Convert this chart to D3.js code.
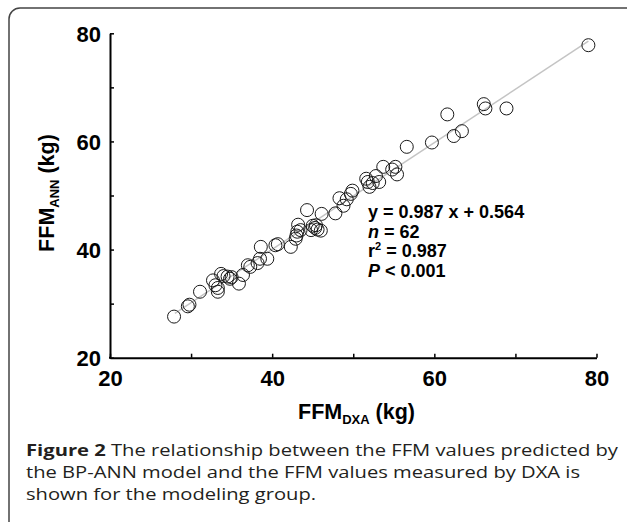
<!DOCTYPE html>
<html>
<head>
<meta charset="utf-8">
<script src="https://cdn.jsdelivr.net/npm/d3@7"></script>
<style>
  html, body { margin: 0; padding: 0; background: #fff; }
  svg { display: block; }
  .narrow { font-family: 'Liberation Sans Narrow', 'Arial Narrow', 'Liberation Sans', sans-serif; font-weight: bold; }
  .caption { font-family: 'Open Sans', 'Noto Sans', sans-serif; fill: #231f20; }
</style>
</head>
<body>
<svg id="chart" width="627" height="522"></svg>
<script>
const ffmDxa = [27.9, 29.6, 29.8, 31.1, 32.7, 33.0, 33.3, 33.3, 33.7, 34.0,
  34.5, 34.8, 35.9, 36.4, 37.0, 37.3, 38.2, 38.5, 38.6, 39.4,
  40.4, 40.7, 42.3, 42.9, 43.0, 43.1, 43.2, 43.5, 44.3, 44.8,
  45.0, 45.3, 45.6, 46.0, 46.1, 47.8, 48.3, 48.8, 49.2, 49.7,
  49.9, 51.6, 51.8, 52.0, 52.4, 52.8, 53.2, 53.7, 54.8, 55.2,
  55.4, 56.6, 59.7, 61.6, 62.4, 63.4, 66.1, 66.3, 68.9, 79.0,
  35.0, 45.4];
const ffmAnn = [27.6, 29.5, 29.8, 32.2, 34.3, 33.4, 32.2, 32.9, 35.5, 35.1,
  35.0, 34.6, 33.7, 35.3, 37.1, 36.8, 37.5, 38.3, 40.5, 38.3,
  40.8, 41.0, 40.5, 42.0, 42.6, 43.3, 44.6, 43.6, 47.3, 43.6,
  44.4, 44.0, 43.7, 43.5, 46.6, 46.7, 49.5, 48.1, 49.3, 50.3,
  50.9, 53.1, 52.5, 51.6, 52.3, 53.6, 52.5, 55.3, 54.8, 55.3,
  53.9, 59.0, 59.8, 65.0, 61.0, 61.9, 66.9, 66.1, 66.1, 77.8,
  34.9, 44.5];
const axisTicks = [20, 30, 40, 50, 60, 70, 80];
const tickLabels = [20, 40, 60, 80];
const fitSlope = 0.987, fitIntercept = 0.564;
const fitRange = [28, 79];
const statLines = [
  [{ t: 'y = 0.987 x + 0.564' }],
  [{ t: 'n', i: true }, { t: ' = 62' }],
  [{ t: 'r' }, { t: '2', sup: true }, { t: ' = 0.987' }],
  [{ t: 'P', i: true }, { t: ' < 0.001' }]
];
const captionLines = [
  [{ t: 'Figure 2', b: true }, { t: ' The relationship between the FFM values predicted by' }],
  [{ t: 'the BP-ANN model and the FFM values measured by DXA is' }],
  [{ t: 'shown for the modeling group.' }]
];

const svg = d3.select('#chart');
const plot = { left: 110, right: 596.5, top: 33.3, bottom: 357.7 };

// outer frame
svg.append('rect')
  .attr('x', 9).attr('y', 8).attr('width', 660).attr('height', 560)
  .attr('rx', 11).attr('ry', 11)
  .attr('fill', 'none').attr('stroke', '#444').attr('stroke-width', 1.5);

const x = d3.scaleLinear().domain([20, 80]).range([plot.left, plot.right]);
const y = d3.scaleLinear().domain([20, 80]).range([plot.bottom, plot.top]);

const fmt = d => tickLabels.includes(d) ? d : '';

const gx = svg.append('g')
  .attr('transform', `translate(0,${plot.bottom})`)
  .call(d3.axisBottom(x).tickValues(axisTicks).tickSizeInner(-4).tickSizeOuter(0).tickFormat(fmt));
const gy = svg.append('g')
  .attr('transform', `translate(${plot.left},0)`)
  .call(d3.axisLeft(y).tickValues(axisTicks).tickSizeInner(-4).tickSizeOuter(0).tickFormat(fmt));

[gx, gy].forEach(g => {
  g.select('.domain').attr('stroke', '#000').attr('stroke-width', 2);
  g.selectAll('.tick line').attr('stroke', '#000').attr('stroke-width', 1.5);
  g.selectAll('.tick text').attr('class', 'narrow').attr('font-size', 22).attr('fill', '#000');
});
gx.selectAll('.tick text').attr('y', 28).attr('dy', 0);
gy.selectAll('.tick text').attr('x', -9).attr('dy', 8);
// close corner where the two axis lines meet
svg.append('line')
  .attr('x1', plot.left - 1).attr('x2', plot.left + 1)
  .attr('y1', plot.bottom).attr('y2', plot.bottom)
  .attr('stroke', '#000').attr('stroke-width', 2);

// regression line
svg.append('line')
  .attr('x1', x(fitRange[0])).attr('y1', y(fitSlope * fitRange[0] + fitIntercept))
  .attr('x2', x(fitRange[1])).attr('y2', y(fitSlope * fitRange[1] + fitIntercept))
  .attr('stroke', '#c4c4c4').attr('stroke-width', 1.5);

// points
svg.append('g').selectAll('circle')
  .data(ffmDxa.map((d, i) => [d, ffmAnn[i]]))
  .join('circle')
  .attr('cx', d => x(d[0])).attr('cy', d => y(d[1])).attr('r', 6.5)
  .attr('fill', 'none').attr('stroke', '#1a1a1a').attr('stroke-width', 1);

// statistics block
const stats = svg.append('text').attr('class', 'narrow').attr('font-size', 18).attr('fill', '#000');
statLines.forEach((line, li) => {
  line.forEach((seg, si) => {
    const ts = stats.append('tspan').text(seg.t);
    if (si === 0) ts.attr('x', 368).attr('y', 218 + li * 19.6);
    if (seg.i) ts.attr('font-style', 'italic');
    if (seg.sup) ts.attr('font-size', 11).attr('dy', -7);
    if (si > 0 && line[si - 1].sup) ts.attr('dy', 7);
  });
});

// axis titles
const xt = svg.append('text').attr('class', 'narrow').attr('font-size', 21.5).attr('fill', '#000')
  .attr('x', 298).attr('y', 419);
xt.append('tspan').text('FFM');
xt.append('tspan').text('DXA').attr('font-size', 13).attr('dy', 5);
xt.append('tspan').text(' (kg)').attr('dy', -5);

const yt = svg.append('text').attr('class', 'narrow').attr('font-size', 21.5).attr('fill', '#000')
  .attr('text-anchor', 'middle')
  .attr('transform', 'translate(54,193) rotate(-90)');
yt.append('tspan').text('FFM');
yt.append('tspan').text('ANN').attr('font-size', 13).attr('dy', 5);
yt.append('tspan').text(' (kg)').attr('dy', -5);

// caption
const capWidths = [592, 554, 290];
captionLines.forEach((line, li) => {
  const t = svg.append('text').attr('class', 'caption').attr('font-size', 16.5)
    .attr('x', 26).attr('y', 456 + li * 22)
    .attr('textLength', capWidths[li]).attr('lengthAdjust', 'spacingAndGlyphs');
  line.forEach(seg => {
    const ts = t.append('tspan').text(seg.t);
    if (seg.b) ts.attr('font-weight', 'bold');
  });
});
</script>
</body>
</html>
